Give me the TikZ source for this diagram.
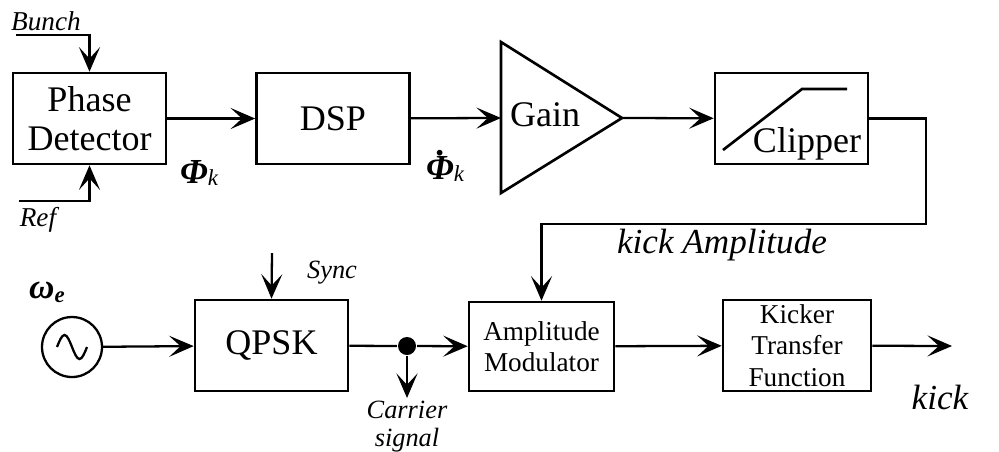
\documentclass[tikz,border=0pt]{standalone}
\usepackage{fontspec}
\setmainfont{Liberation Serif}
\usepackage{tikz}
\usetikzlibrary{arrows.meta, positioning}

\begin{document}
\begin{tikzpicture}[x=0.02cm, y=-0.02cm, line width=1.3pt,
		>={Stealth[length=14pt, width=12pt, inset=6.5pt]}
	]

	\tikzset{
		blk/.style={
				draw, line width=1.5pt, inner sep=0pt, minimum width=3.06cm, minimum height=1.82cm,
				align=center, font=\fontsize{20.5}{22}\selectfont
			},
		sblk/.style={
				blk, font=\fontsize{15.5}{17.8}\selectfont
			},
		lab/.style={
				inner sep=0pt, align=center, font=\fontsize{15}{16}\selectfont\itshape
			},
		blab/.style={
				inner sep=0pt, font=\fontsize{20}{21}\selectfont\itshape
			},
		osc/.style={
				circle, draw, line width=1.3pt, inner sep=0pt, minimum size=1.2cm
			},
		jdot/.style={
				circle, fill=black, inner sep=0pt, minimum size=0.36cm
			},
	}
	\useasboundingbox (0,0) rectangle (999,451);

	% upper row
	\node[blk](pd) at (89.5,118.5){Phase\\Detector};
	\node[blk, right of=pd, xshift=3.87cm](dsp){DSP};
	\coordinate (gtop) at (501,42);
	\coordinate (gbot) at (501,193);
	\coordinate (gin) at (501,118);
	\coordinate (gout) at (622,118);
	\draw[line width=1.5pt, line join=miter] (gtop)--(gout)--(gbot)--cycle;
	\node[inner sep=0pt, font=\fontsize{20.5}{22}\selectfont](gain) at (545,115){Gain};
	\node[blk](clip) at (791.5,118.5){};
	\node[inner sep=0pt, anchor=base, font=\fontsize{20.5}{22}\selectfont](cliptxt) at (807,152){Clipper};
	\draw[line width=1.5pt] ([shift={(-68.5,31.5)}]clip.center) -- ++(79,-61) -- ++(45,0);

	\coordinate (bunch) at (16,35);
	\coordinate (ref) at (19,201);
	\node[lab, font=\fontsize{15.5}{16}\selectfont\itshape](t1) at (46,21){Bunch};
	\node[lab, font=\fontsize{15.5}{16}\selectfont\itshape](t2) at (38,220){Ref};
	\node[inner sep=0pt](t3) at (199,173){{\fontsize{20}{20}\selectfont\bfseries\itshape Φ}\raisebox{-0.35ex}{\fontsize{13}{13}\selectfont\itshape k}};
	\node[inner sep=0pt](t4) at (445,166){{\fontsize{20}{20}\selectfont\bfseries\itshape \makebox[0pt][l]{\hspace{0.3em}\raisebox{0.68em}{.}}Φ}\raisebox{-0.35ex}{\fontsize{13}{13}\selectfont\itshape k}};

	\draw[->] (bunch) -| (pd.north);
	\draw[->] (ref) -| (pd.south);
	\draw[->] (pd) -- (dsp);
	\draw[->] (dsp) -- (gin);
	\draw[->] (gout) -- (clip);

	% lower row
	\node[osc](osc) at (72,347){};
	\draw ([shift={(-15,0)}]osc.center) sin ++(7.5,-12) cos ++(7.5,12) sin ++(7.5,12) cos ++(7.5,-12);
	\node[inner sep=0pt](t6) at (47,292){{\fontsize{20}{20}\selectfont\bfseries\itshape ω}\raisebox{-0.5ex}{\fontsize{13}{13}\selectfont\bfseries\itshape e}};
	\node[blk](qpsk) at (271.5,345.5){QPSK};
	\node[jdot](jn) at (407,346){};
	\node[sblk, minimum width=2.9cm, minimum height=1.78cm](am) at (541.5,346.5){Amplitude\\Modulator};
	\node[sblk, minimum width=2.96cm, minimum height=1.82cm](ktf) at (797,345.5){Kicker\\Transfer\\Function};

	% feedback to modulator
	\coordinate (fb) at (926,224);
	\draw[->] (clip.east) -| (fb) -| (am.north);
	\node[blab](t5) at (722,245){kick Amplitude};

	\coordinate (sync) at (272,253);
	\coordinate (carr) at (407,398);
	\coordinate (kend) at (952,346);
	\node[lab](t7) at (332,273){Sync};
	\node[lab](t8) at (407,427){Carrier\\signal};
	\node[blab](t9) at (940,397){kick};

	\draw[->] (osc) -- (qpsk);
	\draw[->] (sync) -- (qpsk.north);
	\draw (qpsk) -- (jn);
	\draw[->] (jn) -- (am);
	\draw[->] (jn) -- (carr);
	\draw[->] (am) -- (ktf);
	\draw[->] (ktf) -- (kend);

\end{tikzpicture}
\end{document}
